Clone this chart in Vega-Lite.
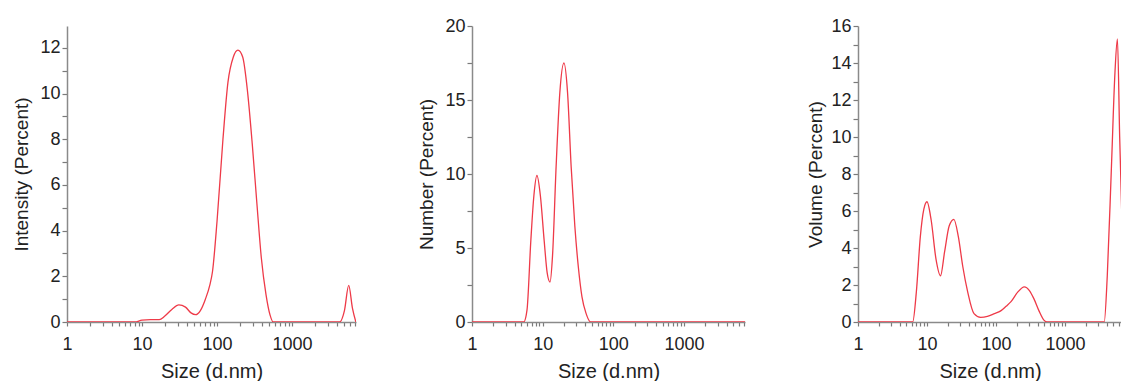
{
  "$schema": "https://vega.github.io/schema/vega-lite/v6.json",
  "background": "white",
  "padding": {"left": 12, "top": 17, "right": 0, "bottom": 0},
  "spacing": 61,
  "config": {
    "view": {"stroke": null},
    "font": "Liberation Sans",
    "axis": {
      "domainColor": "#8a8a8a",
      "domainWidth": 1.5,
      "tickColor": "#7a7a7a",
      "tickWidth": 1.2,
      "labelColor": "#222222",
      "titleColor": "#222222",
      "labelFont": "Liberation Sans",
      "titleFont": "Liberation Sans",
      "labelFontSize": 18,
      "titleFontSize": 19,
      "titleFontWeight": "normal",
      "grid": false,
      "labelOverlap": false,
      "labelFlush": false
    },
    "axisX": {"titleFontSize": 20}
  },
  "hconcat": [
    {
      "width": 289,
      "height": 296,
      "data": {"values": [
        {"size": 1, "pct": 0}, {"size": 2, "pct": 0}, {"size": 5, "pct": 0}, {"size": 8, "pct": 0},
        {"size": 10, "pct": 0.08}, {"size": 13, "pct": 0.1}, {"size": 17, "pct": 0.1}, {"size": 20, "pct": 0.25},
        {"size": 25, "pct": 0.55}, {"size": 31, "pct": 0.75}, {"size": 38, "pct": 0.65}, {"size": 45, "pct": 0.4},
        {"size": 52, "pct": 0.32}, {"size": 60, "pct": 0.5}, {"size": 70, "pct": 1.0}, {"size": 80, "pct": 1.6},
        {"size": 87, "pct": 2.2}, {"size": 100, "pct": 4.4}, {"size": 120, "pct": 8.0}, {"size": 140, "pct": 10.5},
        {"size": 165, "pct": 11.6}, {"size": 190, "pct": 11.9}, {"size": 220, "pct": 11.6}, {"size": 255, "pct": 10.1},
        {"size": 295, "pct": 7.8}, {"size": 340, "pct": 5.2}, {"size": 390, "pct": 2.8}, {"size": 450, "pct": 1.2},
        {"size": 510, "pct": 0.3}, {"size": 560, "pct": 0}, {"size": 1000, "pct": 0}, {"size": 4300, "pct": 0},
        {"size": 5000, "pct": 0.5}, {"size": 5700, "pct": 1.6}, {"size": 6400, "pct": 0.6}, {"size": 7100, "pct": 0}
      ]},
      "mark": {"type": "line", "color": "#ee3a48", "strokeWidth": 1.3, "interpolate": "monotone", "clip": true},
      "encoding": {
        "x": {"field": "size", "type": "quantitative", "scale": {"type": "log", "domain": [1, 7130], "nice": false},
          "axis": {"title": "Size (d.nm)", "values": [1,2,3,4,5,6,7,8,9,10,20,30,40,50,60,70,80,90,100,200,300,400,500,600,700,800,900,1000,2000,3000,4000,5000,6000,7000],
            "format": "d", "labelExpr": "indexof([1,10,100,1000], datum.value) >= 0 ? datum.label : ''",
            "tickSize": 4, "labelPadding": 9, "titlePadding": 8}},
        "y": {"field": "pct", "type": "quantitative", "scale": {"domain": [0, 12.96], "nice": false},
          "axis": {"title": "Intensity (Percent)", "values": [0,1,2,3,4,5,6,7,8,9,10,11,12],
            "labelExpr": "datum.value % 2 == 0 ? datum.label : ''", "tickSize": 5, "labelPadding": 2, "titlePadding": 8}}
      }
    },
    {
      "width": 273,
      "height": 296,
      "data": {"values": [
        {"size": 1, "pct": 0}, {"size": 3, "pct": 0}, {"size": 5.4, "pct": 0}, {"size": 6, "pct": 0.8},
        {"size": 6.8, "pct": 5.5}, {"size": 7.5, "pct": 8.5}, {"size": 8.3, "pct": 9.9}, {"size": 9.3, "pct": 8.5},
        {"size": 10.5, "pct": 5.5}, {"size": 11.6, "pct": 3.3}, {"size": 12.7, "pct": 2.7}, {"size": 13.8, "pct": 4.5},
        {"size": 15.5, "pct": 10.5}, {"size": 17.5, "pct": 15.5}, {"size": 20, "pct": 17.5}, {"size": 22.5, "pct": 15.5},
        {"size": 25.3, "pct": 10.5}, {"size": 28.5, "pct": 6.5}, {"size": 32, "pct": 3.7}, {"size": 36, "pct": 1.7},
        {"size": 41, "pct": 0.6}, {"size": 48, "pct": 0}, {"size": 100, "pct": 0}, {"size": 7300, "pct": 0}
      ]},
      "mark": {"type": "line", "color": "#ee3a48", "strokeWidth": 1.3, "interpolate": "monotone", "clip": true},
      "encoding": {
        "x": {"field": "size", "type": "quantitative", "scale": {"type": "log", "domain": [1, 7300], "nice": false},
          "axis": {"title": "Size (d.nm)", "values": [1,2,3,4,5,6,7,8,9,10,20,30,40,50,60,70,80,90,100,200,300,400,500,600,700,800,900,1000,2000,3000,4000,5000,6000,7000],
            "format": "d", "labelExpr": "indexof([1,10,100,1000], datum.value) >= 0 ? datum.label : ''",
            "tickSize": 4, "labelPadding": 9, "titlePadding": 8}},
        "y": {"field": "pct", "type": "quantitative", "scale": {"domain": [0, 20], "nice": false},
          "axis": {"title": "Number (Percent)", "values": [0,2.5,5,7.5,10,12.5,15,17.5,20],
            "labelExpr": "datum.value % 5 == 0 ? datum.label : ''", "tickSize": 5, "labelPadding": 2, "titlePadding": 8}}
      }
    },
    {
      "width": 264,
      "height": 296,
      "data": {"values": [
        {"size": 1, "pct": 0}, {"size": 3, "pct": 0}, {"size": 6.2, "pct": 0}, {"size": 7, "pct": 1.6},
        {"size": 8, "pct": 4.6}, {"size": 9, "pct": 6.1}, {"size": 10, "pct": 6.5}, {"size": 11.5, "pct": 5.5},
        {"size": 13.5, "pct": 3.4}, {"size": 15.7, "pct": 2.5}, {"size": 18, "pct": 3.8}, {"size": 21, "pct": 5.2},
        {"size": 24.5, "pct": 5.55}, {"size": 28.5, "pct": 4.6}, {"size": 33, "pct": 3.0}, {"size": 39, "pct": 1.6},
        {"size": 48, "pct": 0.45}, {"size": 60, "pct": 0.25}, {"size": 75, "pct": 0.3}, {"size": 95, "pct": 0.45},
        {"size": 117, "pct": 0.6}, {"size": 140, "pct": 0.85}, {"size": 165, "pct": 1.1}, {"size": 205, "pct": 1.6},
        {"size": 257, "pct": 1.9}, {"size": 305, "pct": 1.7}, {"size": 355, "pct": 1.25}, {"size": 420, "pct": 0.6},
        {"size": 495, "pct": 0.1}, {"size": 550, "pct": 0}, {"size": 1000, "pct": 0}, {"size": 3700, "pct": 0},
        {"size": 4100, "pct": 2.5}, {"size": 4700, "pct": 8.3}, {"size": 5300, "pct": 13.5}, {"size": 5750, "pct": 15.3},
        {"size": 6200, "pct": 10}, {"size": 6800, "pct": 4.5}, {"size": 7500, "pct": 1}
      ]},
      "mark": {"type": "line", "color": "#ee3a48", "strokeWidth": 1.3, "interpolate": "monotone", "clip": true},
      "encoding": {
        "x": {"field": "size", "type": "quantitative", "scale": {"type": "log", "domain": [1, 6700], "nice": false},
          "axis": {"title": "Size (d.nm)", "values": [1,2,3,4,5,6,7,8,9,10,20,30,40,50,60,70,80,90,100,200,300,400,500,600,700,800,900,1000,2000,3000,4000,5000,6000],
            "format": "d", "labelExpr": "indexof([1,10,100,1000], datum.value) >= 0 ? datum.label : ''",
            "tickSize": 4, "labelPadding": 9, "titlePadding": 8}},
        "y": {"field": "pct", "type": "quantitative", "scale": {"domain": [0, 16], "nice": false},
          "axis": {"title": "Volume (Percent)", "values": [0,1,2,3,4,5,6,7,8,9,10,11,12,13,14,15,16],
            "labelExpr": "datum.value % 2 == 0 ? datum.label : ''", "tickSize": 5, "labelPadding": 2, "titlePadding": 5}}
      }
    }
  ]
}
